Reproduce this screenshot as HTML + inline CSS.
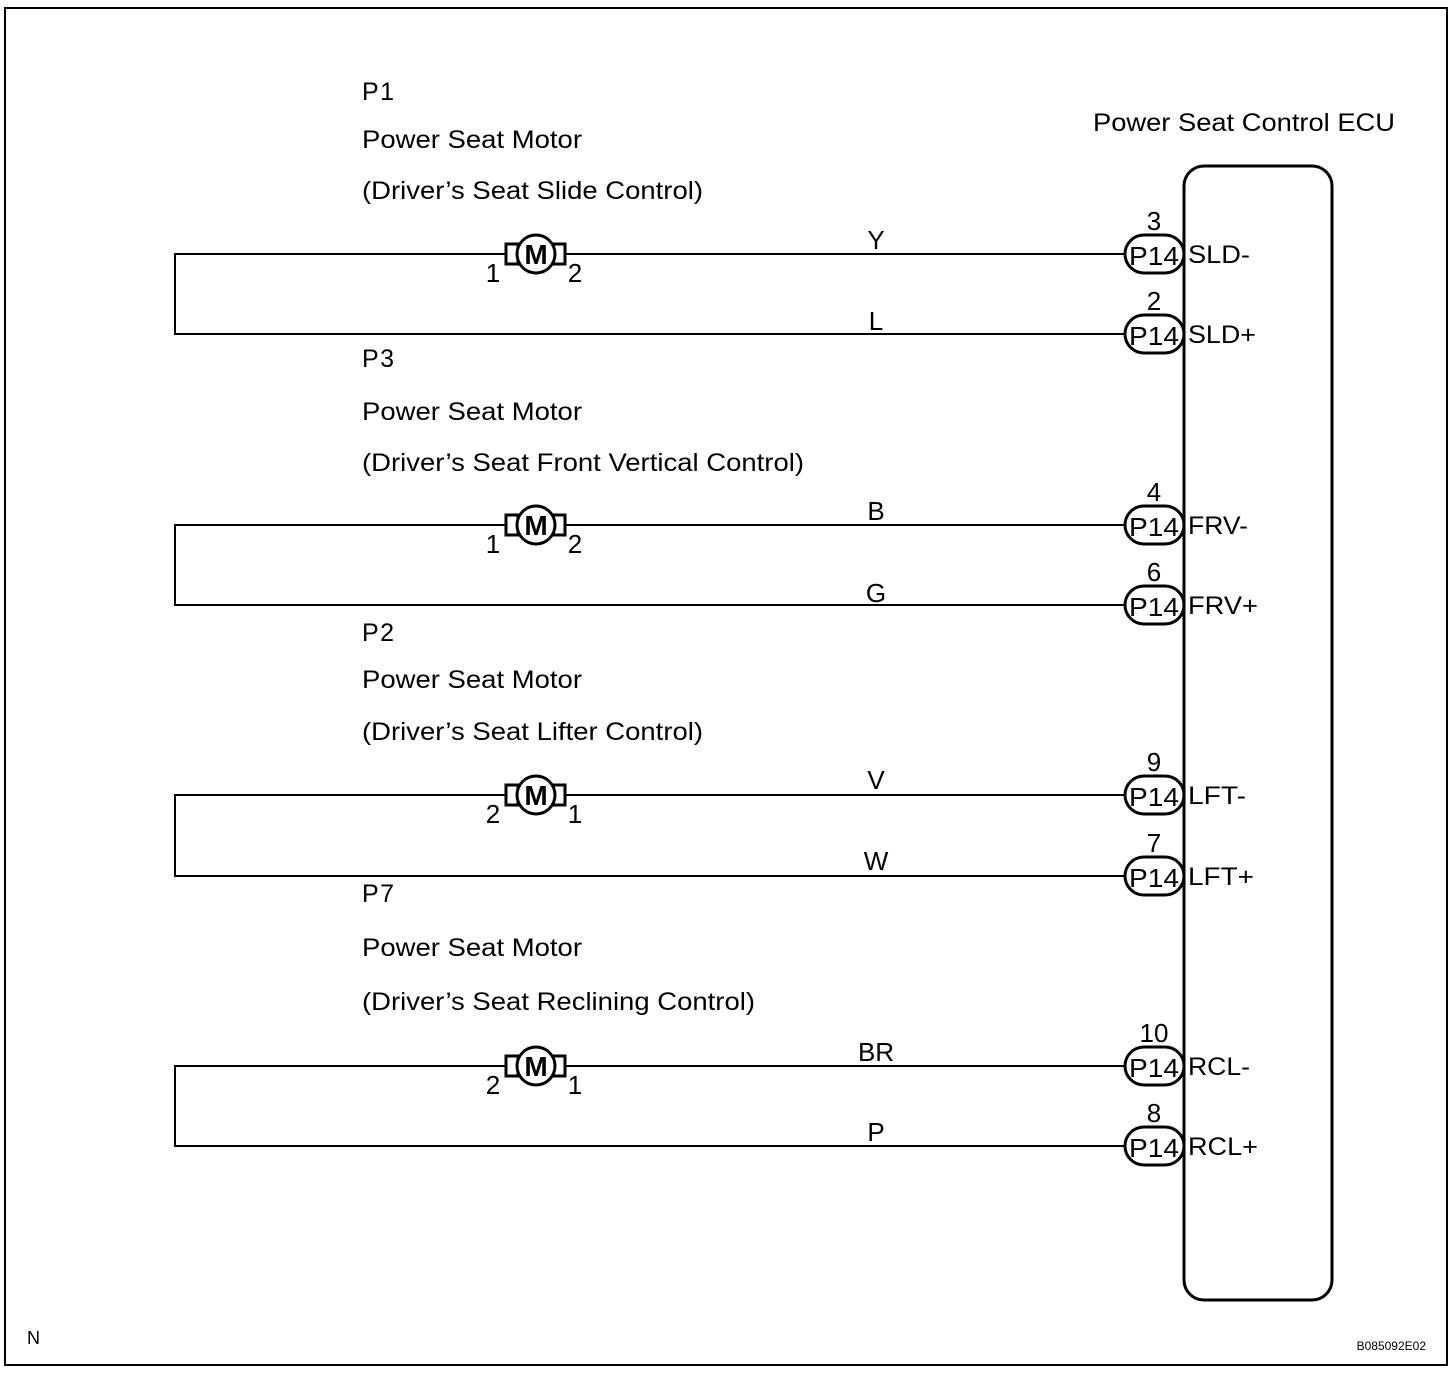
<!DOCTYPE html>
<html><head><meta charset="utf-8"><style>
html,body{margin:0;padding:0;background:#fff}
svg{display:block}
text{font-family:"Liberation Sans",Arial,sans-serif;fill:#000}
</style></head><body>
<svg width="1456" height="1374" viewBox="0 0 1456 1374" xmlns="http://www.w3.org/2000/svg">
<defs>
<g id="motor">
<rect x="506" y="-10" width="12" height="20" fill="none" stroke="#000" stroke-width="3"/>
<rect x="553" y="-10" width="12" height="20" fill="none" stroke="#000" stroke-width="3"/>
<circle cx="536" cy="0" r="19" fill="#fff" stroke="#000" stroke-width="3"/>
<text x="536" y="10" font-size="28" font-weight="bold" text-anchor="middle">M</text>
</g>
<g id="conn">
<rect x="1125" y="-19" width="59" height="38" rx="19" fill="#fff" stroke="#000" stroke-width="3"/>
<text x="1154" y="11" font-size="26" text-anchor="middle" textLength="50" lengthAdjust="spacingAndGlyphs">P14</text>
</g>
</defs>
<rect x="5" y="8" width="1442" height="1357" fill="none" stroke="#000" stroke-width="2"/>
<rect x="1184" y="166" width="148" height="1134" rx="20" fill="none" stroke="#000" stroke-width="3"/>
<text x="1093" y="131" font-size="25" textLength="302" lengthAdjust="spacingAndGlyphs">Power Seat Control ECU</text>
<g font-size="25">
<text x="362" y="100" textLength="32">P1</text>
<text x="362" y="148" textLength="220" lengthAdjust="spacingAndGlyphs">Power Seat Motor</text>
<text x="362" y="199" textLength="341" lengthAdjust="spacingAndGlyphs">(Driver’s Seat Slide Control)</text>
<text x="362" y="367" textLength="32">P3</text>
<text x="362" y="420" textLength="220" lengthAdjust="spacingAndGlyphs">Power Seat Motor</text>
<text x="362" y="471" textLength="442" lengthAdjust="spacingAndGlyphs">(Driver’s Seat Front Vertical Control)</text>
<text x="362" y="641" textLength="32">P2</text>
<text x="362" y="688" textLength="220" lengthAdjust="spacingAndGlyphs">Power Seat Motor</text>
<text x="362" y="740" textLength="341" lengthAdjust="spacingAndGlyphs">(Driver’s Seat Lifter Control)</text>
<text x="362" y="902" textLength="32">P7</text>
<text x="362" y="956" textLength="220" lengthAdjust="spacingAndGlyphs">Power Seat Motor</text>
<text x="362" y="1010" textLength="393" lengthAdjust="spacingAndGlyphs">(Driver’s Seat Reclining Control)</text>
</g>
<g stroke="#000" stroke-width="2" fill="none">
<path d="M1125 254H565M506 254H175V334H1125"/>
<path d="M1125 525H565M506 525H175V605H1125"/>
<path d="M1125 795H565M506 795H175V876H1125"/>
<path d="M1125 1066H565M506 1066H175V1146H1125"/>
</g>
<use href="#motor" y="254"/><use href="#motor" y="525"/><use href="#motor" y="795"/><use href="#motor" y="1066"/>
<use href="#conn" y="254"/><use href="#conn" y="334"/><use href="#conn" y="525"/><use href="#conn" y="605"/>
<use href="#conn" y="795"/><use href="#conn" y="876"/><use href="#conn" y="1066"/><use href="#conn" y="1146"/>
<g font-size="26">
<text x="493" y="282" text-anchor="middle">1</text><text x="575" y="282" text-anchor="middle">2</text>
<text x="493" y="553" text-anchor="middle">1</text><text x="575" y="553" text-anchor="middle">2</text>
<text x="493" y="823" text-anchor="middle">2</text><text x="575" y="823" text-anchor="middle">1</text>
<text x="493" y="1094" text-anchor="middle">2</text><text x="575" y="1094" text-anchor="middle">1</text>
</g>
<g font-size="26" text-anchor="middle">
<text x="876" y="249">Y</text><text x="876" y="330">L</text>
<text x="876" y="520">B</text><text x="876" y="602">G</text>
<text x="876" y="789">V</text><text x="876" y="870">W</text>
<text x="876" y="1061">BR</text><text x="876" y="1141">P</text>
</g>
<g font-size="26" text-anchor="middle">
<text x="1154" y="230">3</text><text x="1154" y="310">2</text>
<text x="1154" y="501">4</text><text x="1154" y="581">6</text>
<text x="1154" y="771">9</text><text x="1154" y="852">7</text>
<text x="1154" y="1042">10</text><text x="1154" y="1122">8</text>
</g>
<g font-size="25">
<text x="1188" y="263" textLength="62" lengthAdjust="spacingAndGlyphs">SLD-</text><text x="1188" y="343" textLength="68" lengthAdjust="spacingAndGlyphs">SLD+</text>
<text x="1188" y="534" textLength="60" lengthAdjust="spacingAndGlyphs">FRV-</text><text x="1188" y="614" textLength="70" lengthAdjust="spacingAndGlyphs">FRV+</text>
<text x="1188" y="804" textLength="58" lengthAdjust="spacingAndGlyphs">LFT-</text><text x="1188" y="885" textLength="66" lengthAdjust="spacingAndGlyphs">LFT+</text>
<text x="1188" y="1075" textLength="62" lengthAdjust="spacingAndGlyphs">RCL-</text><text x="1188" y="1155" textLength="70" lengthAdjust="spacingAndGlyphs">RCL+</text>
</g>
<text x="27" y="1344" font-size="18">N</text>
<text x="1426" y="1350" font-size="12" text-anchor="end">B085092E02</text>
</svg>
</body></html>
